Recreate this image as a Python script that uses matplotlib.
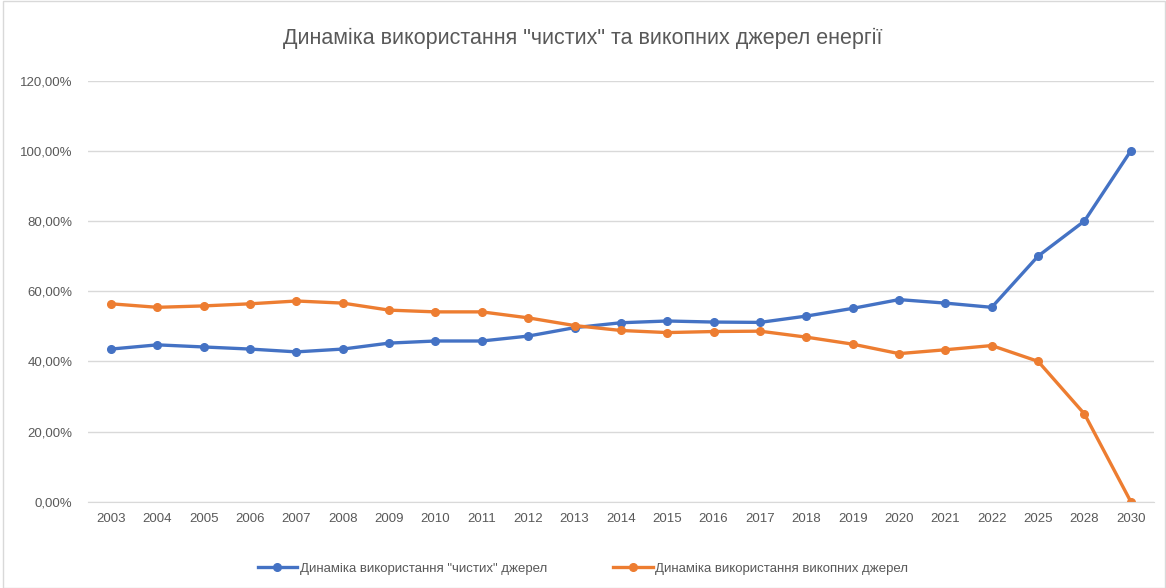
import matplotlib.pyplot as plt
from matplotlib.patches import Rectangle
from matplotlib.ticker import FuncFormatter

plt.rcParams['font.family'] = ['Liberation Sans', 'DejaVu Sans']

years = ["2003", "2004", "2005", "2006", "2007", "2008", "2009", "2010",
         "2011", "2012", "2013", "2014", "2015", "2016", "2017", "2018",
         "2019", "2020", "2021", "2022", "2025", "2028", "2030"]

# частка "чистих" джерел, %
clean = [43.5, 44.7, 44.1, 43.5, 42.7, 43.5, 45.2, 45.8, 45.8, 47.2, 49.6,
         51.0, 51.5, 51.2, 51.1, 52.9, 55.1, 57.6, 56.6, 55.4, 70.0, 80.0, 100.0]

# частка викопних джерел, %
fossil = [56.4, 55.4, 55.8, 56.4, 57.2, 56.6, 54.6, 54.1, 54.1, 52.4, 50.2,
          48.8, 48.2, 48.5, 48.6, 46.9, 44.9, 42.2, 43.3, 44.5, 40.0, 25.0, 0.0]

yticks = [0, 20, 40, 60, 80, 100, 120]

blue = "#4472C4"
orange = "#ED7D31"
grey = "#595959"

fig = plt.figure(figsize=(11.66, 5.88), dpi=100)
ax = fig.add_axes([0.0753, 0.1468, 0.9144, 0.716])

x = list(range(len(years)))
ax.plot(x, clean, color=blue, lw=2.4, marker="o", markersize=5.5,
        label='Динаміка використання "чистих" джерел')
ax.plot(x, fossil, color=orange, lw=2.4, marker="o", markersize=5.5,
        label="Динаміка використання викопних джерел")

ax.set_xlim(-0.5, len(years) - 0.5)
ax.set_ylim(0, 120)
ax.set_yticks(yticks)
ax.yaxis.set_major_formatter(FuncFormatter(lambda v, p: f"{v:.2f}%".replace(".", ",")))
ax.set_xticks(x)
ax.set_xticklabels(years)
ax.tick_params(axis="both", length=0, colors=grey, labelsize=9.5)
ax.tick_params(axis="y", pad=11)
ax.tick_params(axis="x", pad=8)

ax.grid(axis="y", color="#D9D9D9", lw=1)
ax.set_axisbelow(True)
for s in ["top", "right", "left"]:
    ax.spines[s].set_visible(False)
ax.spines["bottom"].set_color("#D9D9D9")

fig.text(0.5, 0.935, 'Динаміка використання "чистих" та викопних джерел енергії',
         ha="center", va="center", fontsize=15.5, color=grey)

fig.legend(loc="center", bbox_to_anchor=(0.5, 0.033), ncol=2, frameon=False,
           fontsize=9.5, labelcolor=grey, handlelength=3, columnspacing=5,
           handletextpad=0.2)

fig.patches.append(Rectangle((0.003, 0.0), 0.996, 0.999, transform=fig.transFigure,
                             fill=False, edgecolor="#D9D9D9", lw=1))

fig.savefig("out.png", dpi=100)
